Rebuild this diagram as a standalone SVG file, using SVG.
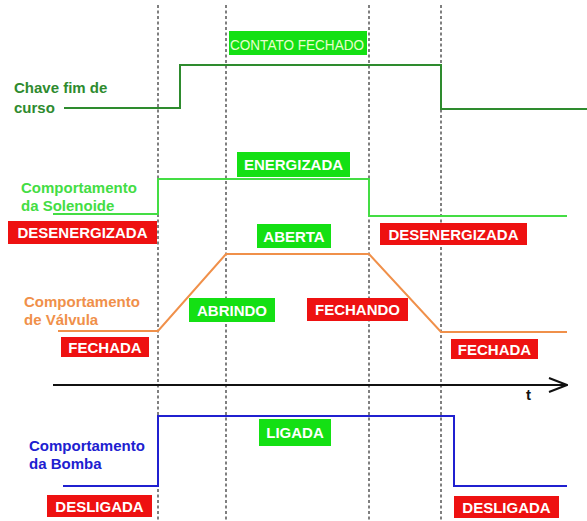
<svg xmlns="http://www.w3.org/2000/svg" width="587" height="521" viewBox="0 0 587 521">
<style>
.lbl{font-family:"Liberation Sans",Arial,sans-serif;font-weight:bold;font-size:15px}
.box text{font-family:"Liberation Sans",Arial,sans-serif;font-weight:bold;font-size:15px;fill:#ffffff;text-anchor:middle}
.g rect{fill:#14e014}
.r rect{fill:#ee1111}
.grid line{stroke:#555;stroke-width:1.5;stroke-dasharray:3 2.5}
.sig{fill:none;stroke-width:2;stroke-linejoin:miter}
</style>
<defs>
<marker id="arr" viewBox="0 0 20 16" refX="19" refY="8" markerWidth="20" markerHeight="16" markerUnits="userSpaceOnUse" orient="auto">
<path d="M1,1 L19,8 L1,15" fill="none" stroke="#111" stroke-width="2"/>
</marker>
</defs>
<rect width="587" height="521" fill="#ffffff"/>
<g id="grid" class="grid">
<line x1="158" y1="5" x2="158" y2="521"/>
<line x1="226" y1="5" x2="226" y2="521"/>
<line x1="369" y1="5" x2="369" y2="521"/>
<line x1="441" y1="5" x2="441" y2="521"/>
</g>
<g id="connectors">
<polyline id="chave" class="sig" stroke="#2e8b2e" points="64,108 180,108 180,65 441,65 441,109 587,109"/>
<polyline id="solenoide" class="sig" stroke="#44dd44" points="53,214 158,214 158,179 369,179 369,216 567,216"/>
<polyline id="valvula" class="sig" stroke="#f0904a" points="58,331 158,331 226,254 369,254 441,332 567,332"/>
<line id="eixo" x1="53" y1="385" x2="567" y2="385" stroke="#111" stroke-width="2" marker-end="url(#arr)"/>
<polyline id="bomba" class="sig" stroke="#2020d0" points="63,486 158,486 158,416 454,416 454,486 567,486"/>
</g>
<g id="lbl-chave"><text class="lbl" fill="#2e8b2e" x="14" y="93">Chave fim de</text><text class="lbl" fill="#2e8b2e" x="14" y="113">curso</text></g>
<g id="lbl-solenoide"><text class="lbl" fill="#44dd44" x="21" y="193">Comportamento</text><text class="lbl" fill="#44dd44" x="21" y="211">da Solenoide</text></g>
<g id="lbl-valvula"><text class="lbl" fill="#f0904a" x="24" y="307">Comportamento</text><text class="lbl" fill="#f0904a" x="24" y="325">de Válvula</text></g>
<g id="lbl-bomba"><text class="lbl" fill="#2020d0" x="29" y="451">Comportamento</text><text class="lbl" fill="#2020d0" x="29" y="469">da Bomba</text></g>
<g id="lbl-t"><text class="lbl" fill="#111" x="526" y="400" font-size="14">t</text></g>
<g id="contato" class="box g"><rect x="229" y="31" width="138" height="24"/><text x="297" y="50" style="font-weight:normal;font-size:15.5px;fill:#e6ffcc" textLength="134" lengthAdjust="spacingAndGlyphs">CONTATO FECHADO</text></g>
<g id="energizada" class="box g"><rect x="237" y="152" width="113" height="25"/><text x="293.5" y="170">ENERGIZADA</text></g>
<g id="desenerg1" class="box r"><rect x="8" y="221" width="149" height="23"/><text x="82.5" y="238">DESENERGIZADA</text></g>
<g id="desenerg2" class="box r"><rect x="380" y="223" width="147" height="22"/><text x="453.5" y="240">DESENERGIZADA</text></g>
<g id="aberta" class="box g"><rect x="257" y="224" width="74" height="24"/><text x="294" y="241.5">ABERTA</text></g>
<g id="abrindo" class="box g"><rect x="189" y="298" width="86" height="24"/><text x="232" y="315.5">ABRINDO</text></g>
<g id="fechando" class="box r"><rect x="307" y="298" width="101" height="23"/><text x="357.5" y="315">FECHANDO</text></g>
<g id="fechada1" class="box r"><rect x="61" y="337" width="88" height="20"/><text x="105" y="352.5">FECHADA</text></g>
<g id="fechada2" class="box r"><rect x="451" y="339" width="87" height="20"/><text x="494.5" y="354.5">FECHADA</text></g>
<g id="ligada" class="box g"><rect x="259" y="419" width="72" height="27"/><text x="295" y="438">LIGADA</text></g>
<g id="desligada1" class="box r"><rect x="47" y="495" width="105" height="22"/><text x="99.5" y="511.5">DESLIGADA</text></g>
<g id="desligada2" class="box r"><rect x="454" y="496" width="105" height="22"/><text x="506.5" y="512.5">DESLIGADA</text></g>
</svg>
